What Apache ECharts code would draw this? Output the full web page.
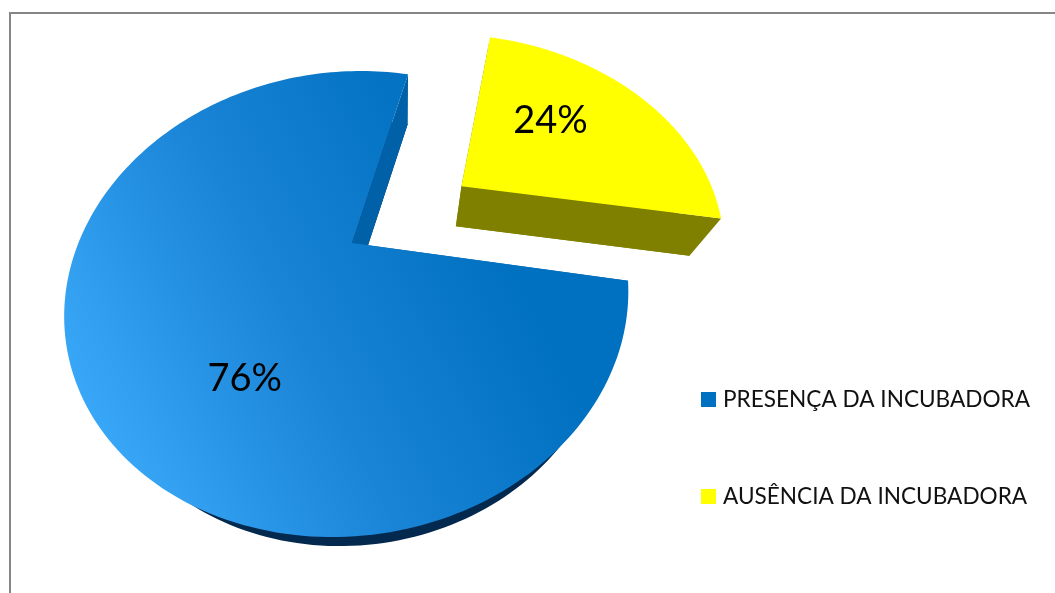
<!DOCTYPE html>
<html>
<head>
<meta charset="utf-8">
<style>html,body{margin:0;padding:0;background:#fff}#chart{width:1055px;height:593px}</style>
<script src="https://cdn.jsdelivr.net/npm/echarts@6/dist/echarts.min.js"></script>
</head>
<body>
<div id="chart"></div>
<script>
// Slice names and shares of the pie
const sliceNames = ['PRESENÇA DA INCUBADORA', 'AUSÊNCIA DA INCUBADORA'];
const sliceValues = [76, 24];
const sliceLabels = ['76%', '24%'];

const FONT = 'Lato, "Open Sans", sans-serif';

// Tilted disc: maps disc coordinates (u right, v away from the viewer) to the screen.
const APEX = { x: 352, y: 243 };
const SCALE_U = 272, SCALE_V = 217, TILT = 0.262;
// Small skew terms that lean the disc slightly to the left at the front.
const SKEW_V = 10.5, SKEW_VV = -3.7, SKEW_RR = -2.75, ROLL = -3;
// The underside is the top face pulled towards a vanishing point.
const VANISH = { x: 405, y: 640 }, DEPTH_X = 0.1, DEPTH_Y = 0.088;
const FIRST_ANGLE = 100.3;        // clockwise from 12 o'clock
const total = sliceValues.reduce((a, b) => a + b, 0);

function project(u, v, lower) {
  const w = 1 + TILT * v;
  let x = APEX.x + SCALE_U * u / w + SKEW_V * v + SKEW_VV * v * v + SKEW_RR * (u * u + v * v);
  let y = APEX.y - SCALE_V * v / w + ROLL * u;
  if (lower) {
    x += (VANISH.x - x) * DEPTH_X;
    y += (VANISH.y - y) * DEPTH_Y;
  }
  return [x, y];
}

function sliceGeometry(index) {
  const before = sliceValues.slice(0, index).reduce((a, b) => a + b, 0);
  const start = FIRST_ANGLE + before / total * 360;
  const sweep = sliceValues[index] / total * 360;
  return { start, sweep, end: start + sweep, mid: start + sweep / 2 };
}

function polar(angle, radius, off) {
  const a = angle * Math.PI / 180;
  return [off[0] + radius * Math.sin(a), off[1] + radius * Math.cos(a)];
}

function outline(geo, off, lower) {
  const pts = [project(off[0], off[1], lower)];
  for (let i = 0; i <= 200; i++) {
    const p = polar(geo.start + geo.sweep * i / 200, 1, off);
    pts.push(project(p[0], p[1], lower));
  }
  return pts;
}

function wall(angle, off) {
  const rim = polar(angle, 1, off);
  return [project(off[0], off[1], false), project(rim[0], rim[1], false),
          project(rim[0], rim[1], true), project(off[0], off[1], true)];
}

const polygon = (points, fill) => ({ type: 'polygon', silent: true, shape: { points }, style: { fill } });

const blueTop = {
  type: 'linear', global: true, x: 95, y: 440, x2: 500, y2: 235,
  colorStops: [
    { offset: 0, color: '#3AA8F8' },
    { offset: 0.5, color: '#1A84D6' },
    { offset: 1, color: '#0070C0' }
  ]
};

const sliceStyles = [
  { top: blueTop, under: '#03294F', wall: '#0060A8', explode: 0, labelAngle: 210.5, labelRadius: 0.62 },
  { top: '#FFFF00', under: '#808000', wall: '#808000', explode: 0.505, labelAngle: 48.5, labelRadius: 0.561 }
];

function renderSlice(index) {
  return function () {
    const geo = sliceGeometry(index);
    const st = sliceStyles[index];
    const off = polar(geo.mid, st.explode, [0, 0]);
    const anchor = project.apply(null, polar(st.labelAngle, st.labelRadius, off));
    return {
      type: 'group',
      children: [
        polygon(outline(geo, off, true), st.under),
        polygon(wall(geo.start, off), st.wall),
        polygon(wall(geo.end, off), st.wall),
        polygon(outline(geo, off, false), st.top),
        {
          type: 'text', silent: true, x: anchor[0], y: anchor[1],
          style: { text: sliceLabels[index], font: '38px ' + FONT, fill: '#000', align: 'center', verticalAlign: 'middle' }
        }
      ]
    };
  };
}

const legendColors = ['#0070C0', '#FFFF00'];

const chart = echarts.init(document.getElementById('chart'), null, { renderer: 'canvas' });
chart.setOption({
  animation: false,
  backgroundColor: '#fff',
  graphic: [{
    type: 'rect', silent: true, z: -1,
    shape: { x: 10, y: 13, width: 1060, height: 600 },
    style: { fill: 'none', stroke: '#868686', lineWidth: 2 }
  }],
  legend: {
    left: 701, top: 388, orient: 'vertical', icon: 'rect',
    itemWidth: 15, itemHeight: 15, itemGap: 74, padding: 0,
    selectedMode: false,
    textStyle: { fontFamily: FONT, fontSize: 22.6, color: '#111', padding: [0, 0, 0, 2] },
    data: sliceNames
  },
  series: sliceNames.map((name, i) => ({
    type: 'custom',
    name,
    coordinateSystem: 'none',
    data: [[sliceValues[i]]],
    itemStyle: { color: legendColors[i] },
    renderItem: renderSlice(i)
  }))
});
</script>
</body>
</html>
